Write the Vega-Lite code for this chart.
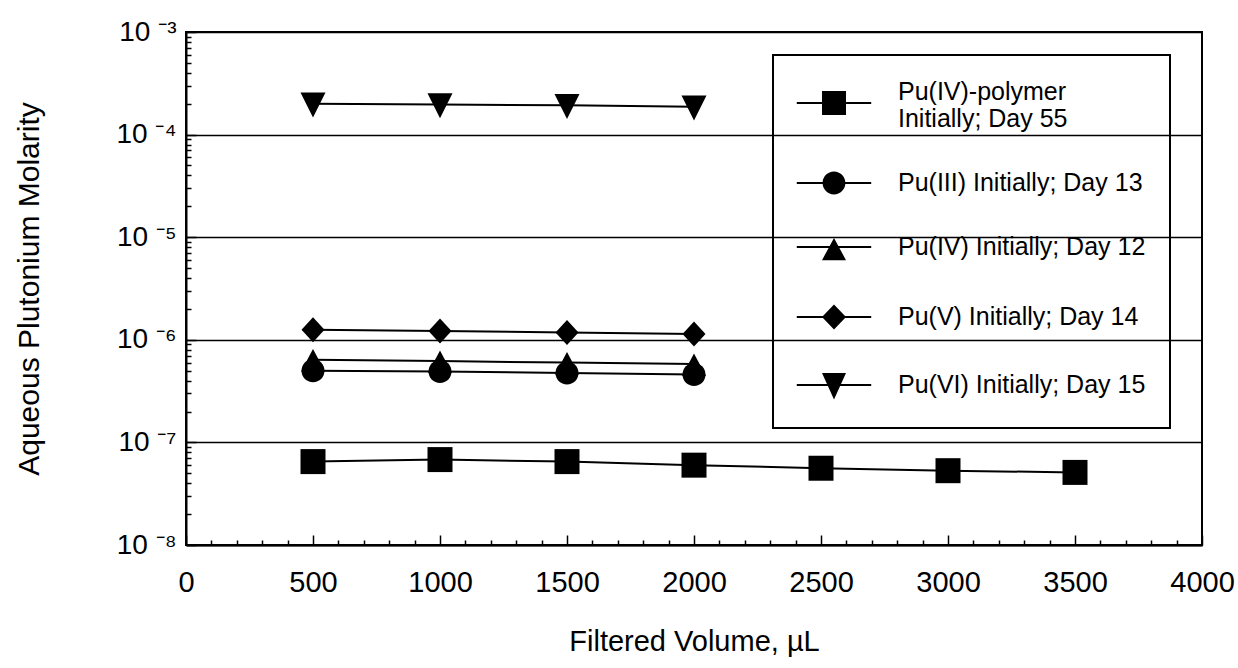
{
  "$schema": "https://vega.github.io/schema/vega-lite/v6.json",
  "width": 1016,
  "height": 513,
  "autosize": "none",
  "padding": {"left": 186, "top": 32, "right": 36, "bottom": 123},
  "background": "white",
  "config": {
    "view": {"stroke": "black", "strokeWidth": 2},
    "font": "Liberation Sans",
    "legend": {"strokeWidth": 2}
  },
  "data": {
    "values": [
      {"series": "Pu(IV)-polymer Initially; Day 55", "volume": 500, "molarity": 6.5e-8},
      {"series": "Pu(IV)-polymer Initially; Day 55", "volume": 1000, "molarity": 6.8e-8},
      {"series": "Pu(IV)-polymer Initially; Day 55", "volume": 1500, "molarity": 6.5e-8},
      {"series": "Pu(IV)-polymer Initially; Day 55", "volume": 2000, "molarity": 6.0e-8},
      {"series": "Pu(IV)-polymer Initially; Day 55", "volume": 2500, "molarity": 5.6e-8},
      {"series": "Pu(IV)-polymer Initially; Day 55", "volume": 3000, "molarity": 5.3e-8},
      {"series": "Pu(IV)-polymer Initially; Day 55", "volume": 3500, "molarity": 5.1e-8},
      {"series": "Pu(III) Initially; Day 13", "volume": 500, "molarity": 5.0e-7},
      {"series": "Pu(III) Initially; Day 13", "volume": 1000, "molarity": 4.9e-7},
      {"series": "Pu(III) Initially; Day 13", "volume": 1500, "molarity": 4.75e-7},
      {"series": "Pu(III) Initially; Day 13", "volume": 2000, "molarity": 4.6e-7},
      {"series": "Pu(IV) Initially; Day 12", "volume": 500, "molarity": 6.4e-7},
      {"series": "Pu(IV) Initially; Day 12", "volume": 1000, "molarity": 6.2e-7},
      {"series": "Pu(IV) Initially; Day 12", "volume": 1500, "molarity": 6.0e-7},
      {"series": "Pu(IV) Initially; Day 12", "volume": 2000, "molarity": 5.8e-7},
      {"series": "Pu(V) Initially; Day 14", "volume": 500, "molarity": 1.25e-6},
      {"series": "Pu(V) Initially; Day 14", "volume": 1000, "molarity": 1.22e-6},
      {"series": "Pu(V) Initially; Day 14", "volume": 1500, "molarity": 1.18e-6},
      {"series": "Pu(V) Initially; Day 14", "volume": 2000, "molarity": 1.14e-6},
      {"series": "Pu(VI) Initially; Day 15", "volume": 500, "molarity": 2.0e-4},
      {"series": "Pu(VI) Initially; Day 15", "volume": 1000, "molarity": 1.97e-4},
      {"series": "Pu(VI) Initially; Day 15", "volume": 1500, "molarity": 1.93e-4},
      {"series": "Pu(VI) Initially; Day 15", "volume": 2000, "molarity": 1.87e-4}
    ]
  },
  "encoding": {
    "x": {
      "field": "volume",
      "type": "quantitative",
      "scale": {"domain": [0, 4000], "nice": false, "zero": false},
      "axis": {
        "values": [0,100,200,300,400,500,600,700,800,900,1000,1100,1200,1300,1400,1500,1600,1700,1800,1900,2000,2100,2200,2300,2400,2500,2600,2700,2800,2900,3000,3100,3200,3300,3400,3500,3600,3700,3800,3900,4000],
        "format": "d",
        "labelExpr": "datum.value % 500 == 0 ? datum.label : ''",
        "labelOverlap": false,
        "labelFlush": false,
        "labelBound": false,
        "grid": false,
        "domainColor": "black",
        "domainWidth": 2,
        "tickColor": "black",
        "tickWidth": 1.5,
        "tickSize": {"condition": {"test": "datum.value % 500 == 0", "value": -10}, "value": -5},
        "labelFontSize": 29,
        "labelColor": "black",
        "labelPadding": 33,
        "title": "Filtered Volume, µL",
        "titleFontSize": 29,
        "titleFontWeight": "normal",
        "titleColor": "black",
        "titlePadding": 25
      }
    },
    "y": {
      "field": "molarity",
      "type": "quantitative",
      "scale": {"type": "log", "domain": [1e-8, 1e-3], "nice": false},
      "axis": {
        "values": [1e-8,2e-8,3e-8,4e-8,5e-8,6e-8,7e-8,8e-8,9e-8,1e-7,2e-7,3e-7,4e-7,5e-7,6e-7,7e-7,8e-7,9e-7,1e-6,2e-6,3e-6,4e-6,5e-6,6e-6,7e-6,8e-6,9e-6,1e-5,2e-5,3e-5,4e-5,5e-5,6e-5,7e-5,8e-5,9e-5,1e-4,2e-4,3e-4,4e-4,5e-4,6e-4,7e-4,8e-4,9e-4,1e-3],
        "labelExpr": "abs(log(datum.value)/LN10 - round(log(datum.value)/LN10)) < 0.01 ? '10 ⁻' + substring('⁰¹²³⁴⁵⁶⁷⁸⁹', -round(log(datum.value)/LN10), -round(log(datum.value)/LN10) + 1) : ''",
        "labelOverlap": false,
        "labelBound": false,
        "labelFlush": false,
        "grid": true,
        "gridColor": "black",
        "gridWidth": 1.5,
        "gridOpacity": {"condition": {"test": "abs(log(datum.value)/LN10 - round(log(datum.value)/LN10)) < 0.01", "value": 1}, "value": 0},
        "domainColor": "black",
        "domainWidth": 2,
        "tickColor": "black",
        "tickWidth": 1.5,
        "tickSize": {"condition": {"test": "abs(log(datum.value)/LN10 - round(log(datum.value)/LN10)) < 0.01", "value": -10}, "value": -5},
        "labelFontSize": 28,
        "labelColor": "black",
        "labelPadding": 20,
        "title": "Aqueous Plutonium Molarity",
        "titleFontSize": 30,
        "titleFontWeight": "normal",
        "titleColor": "black",
        "titlePadding": 72
      }
    }
  },
  "layer": [
    {
      "mark": {"type": "line", "color": "black", "strokeWidth": 2},
      "encoding": {"detail": {"field": "series"}}
    },
    {
      "mark": {"type": "point", "filled": true, "color": "black", "opacity": 1, "size": 625},
      "encoding": {
        "shape": {
          "field": "series",
          "type": "nominal",
          "scale": {
            "domain": ["Pu(IV)-polymer Initially; Day 55", "Pu(III) Initially; Day 13", "Pu(IV) Initially; Day 12", "Pu(V) Initially; Day 14", "Pu(VI) Initially; Day 15"],
            "range": ["M-1,-1H1V1H-1Z", "M0.92,0A0.92,0.92,0,1,1,-0.92,0A0.92,0.92,0,1,1,0.92,0Z", "M0,-0.85L0.96,0.95H-0.96Z", "M0,-1L0.92,0L0,1L-0.92,0Z", "M-1,-0.9H1L0,1.1Z"]
          },
          "legend": null
        }
      }
    },
    {
      "transform": [{"filter": "false"}],
      "mark": {"type": "point", "filled": true, "fill": "black", "stroke": "black", "strokeWidth": 2, "opacity": 1},
      "encoding": {
        "shape": {
          "field": "series",
          "type": "nominal",
          "scale": {
            "domain": ["Pu(IV)-polymer Initially; Day 55", "Pu(III) Initially; Day 13", "Pu(IV) Initially; Day 12", "Pu(V) Initially; Day 14", "Pu(VI) Initially; Day 15"],
            "range": [
              "M-1.1,0.84H5.1V1H-1.1ZM1,-0.08H3V1.92H1Z",
              "M-1.1,-0.08H5.1V0.08H-1.1ZM2.95,0A0.95,0.95,0,1,1,1.05,0A0.95,0.95,0,1,1,2.95,0Z",
              "M-1.1,-0.08H5.1V0.08H-1.1ZM2,-0.75L3,1.1H1Z",
              "M-1.1,-0.08H5.1V0.08H-1.1ZM2,-1.05L3,0L2,1.05L1,0Z",
              "M-1.1,-0.08H5.1V0.08H-1.1ZM1,-1H3L2,1.2Z"
            ]
          },
          "legend": {
            "title": null,
            "orient": "none",
            "legendX": 587,
            "legendY": 23,
            "symbolSize": 576,
            "symbolFillColor": "black",
            "symbolStrokeColor": "black",
            "symbolStrokeWidth": 2,
            "symbolOpacity": 1,
            "labelFontSize": 25,
            "labelFont": "Liberation Sans",
            "labelColor": "black",
            "labelOffset": 75,
            "labelLimit": 500,
            "rowPadding": 35,
            "padding": 24,
            "strokeColor": "black",
            "labelExpr": "datum.label == 'Pu(IV)-polymer Initially; Day 55' ? ['Pu(IV)-polymer', 'Initially; Day 55'] : datum.label"
          }
        }
      }
    }
  ],
  "resolve": {"scale": {"shape": "independent"}}
}
